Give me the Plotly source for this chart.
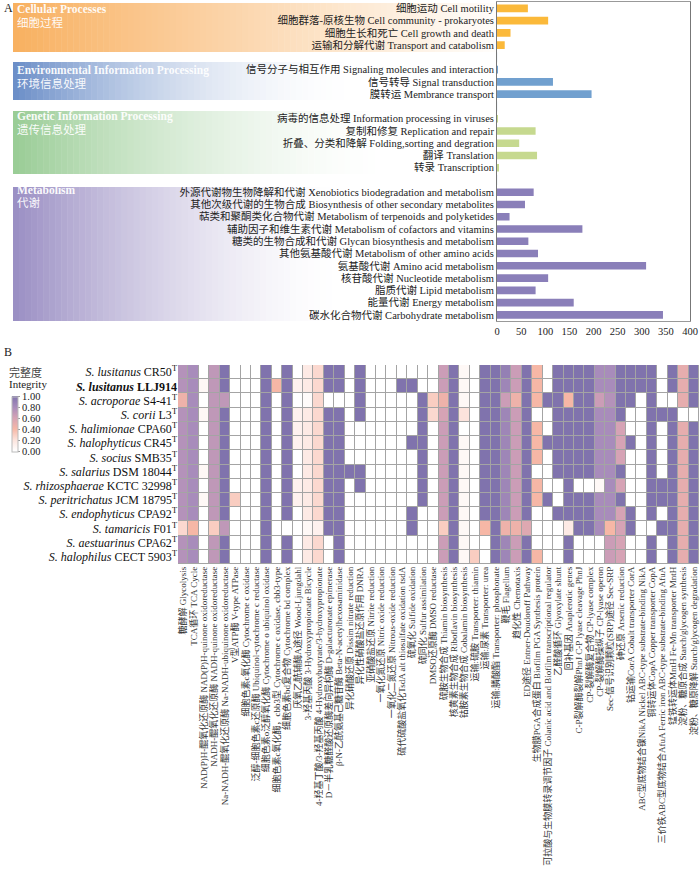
import plotly.graph_objects as go

# ---------------- Panel A data ----------------
cell_labels = ["细胞运动 Cell motility", "细胞群落-原核生物 Cell community - prokaryotes",
               "细胞生长和死亡 Cell growth and death", "运输和分解代谢 Transport and catabolism"]
cell_values = [64, 106, 28, 16]
env_labels = ["信号分子与相互作用 Signaling molecules and interaction", "信号转导 Signal transduction",
              "膜转运 Membrance transport"]
env_values = [1.5, 116, 196]
gen_labels = ["病毒的信息处理 Information processing in viruses", "复制和修复 Replication and repair",
              "折叠、分类和降解 Folding,sorting and degration", "翻译 Translation", "转录 Transcription"]
gen_values = [1, 80, 46, 83, 3]
met_labels = ["外源代谢物生物降解和代谢 Xenobiotics biodegradation and metabolism",
              "其他次级代谢的生物合成 Biosynthesis of other secondary metabolites",
              "萜类和聚酮类化合物代谢 Metabolism of terpenoids and polyketides",
              "辅助因子和维生素代谢 Metabolism of cofactors and vitamins",
              "糖类的生物合成和代谢 Glycan biosynthesis and metabolism",
              "其他氨基酸代谢 Metabolism of other amino acids", "氨基酸代谢 Amino acid metabolism",
              "核苷酸代谢 Nucleotide metabolism", "脂质代谢 Lipid metabolism", "能量代谢 Energy metabolism",
              "碳水化合物代谢 Carbohydrate metabolism"]
met_values = [76, 58, 26, 177, 65, 85, 309, 106, 80, 159, 344]
gap_labels = [" ", "  ", "   "]
a_ticks = [0, 50, 100, 150, 200, 250, 300, 350, 400]

group_titles = ["Cellular Processes", "Environmental Information Processing",
                "Genetic Information Processing", "Metabolism"]
group_titles_cn = ["细胞过程", "环境信息处理", "遗传信息处理", "代谢"]

# ---------------- Panel B data ----------------
species = ["<i>S. lusitanus</i> CR50<sup>T</sup>", "<b><i>S. lusitanus</i> LLJ914</b>",
           "<i>S. acroporae</i> S4-41<sup>T</sup>", "<i>S. corii</i> L3<sup>T</sup>",
           "<i>S. halimionae</i> CPA60<sup>T</sup>", "<i>S. halophyticus</i> CR45<sup>T</sup>",
           "<i>S. socius</i> SMB35<sup>T</sup>", "<i>S. salarius</i> DSM 18044<sup>T</sup>",
           "<i>S. rhizosphaerae</i> KCTC 32998<sup>T</sup>", "<i>S. peritrichatus</i> JCM 18795<sup>T</sup>",
           "<i>S. endophyticus</i> CPA92<sup>T</sup>", "<i>S. tamaricis</i> F01<sup>T</sup>",
           "<i>S. aestuarinus</i> CPA62<sup>T</sup>", "<i>S. halophilus</i> CECT 5903<sup>T</sup>"]

functions = [
    "糖酵解 Glycolysis", "TCA循环 TCA Cycle",
    "NAD(P)H-醌氧化还原酶 NAD(P)H-quinone oxidoreductase",
    "NADH-醌氧化还原酶 NADH-quinone oxidoreductase",
    "Na-NADH-醌氧化还原酶 Na-NADH-ubiquinone oxidoreductase",
    "V型ATP酶 V-type ATPase", "细胞色素c氧化酶 Cytochrome c oxidase",
    "泛醇-细胞色素c还原酶 Ubiquinol-cytochrome c reductase",
    "细胞色素o泛醇氧化酶 Cytochrome o ubiquinol oxidase",
    "细胞色素c氧化酶，cbb3型 Cytochrome c oxidase, cbb3-type",
    "细胞色素bd复合物 Cytochrome bd complex", "厌氧乙酰辅酶A途径 Wood-Ljungdahl",
    "3-羟基丙酸 3-Hydroxypropionate Bicycle",
    "4-羟基丁酸/3-羟基丙酸 4-Hydroxybutyrate/3-hydroxypropionate",
    "D－半乳糖醛酸还原酶差向异构酶 D-galacturonate epimerase",
    "β-N-乙酰氨基己糖苷酶 Beta-N-acetylhexosaminidase",
    "异化硝酸还原 Dissim nitrate reduction", "异化性硝酸盐还原作用 DNRA",
    "亚硝酸盐还原 Nitrite reduction", "一氧化氮还原 Nitric oxide reduction",
    "一氧化二氮还原 Nitrous-oxide reduction",
    "硫代硫酸盐氧化TsdA alt thiosulfate oxidation tsdA",
    "硫氧化 Sulfide oxidation", "硫同化 Sulfur assimilation", "DMSO还原酶 DMSO reductase",
    "硫胺生物合成 Thiamin biosynthesis", "核黄素生物合成 Riboflavin biosynthesis",
    "钴胺素生物合成 Cobalamin biosynthesis", "运输:硫胺 Transporter: thiamin",
    "运输:尿素 Transporter: urea", "运输:膦酸酯 Transporter: phosphonate",
    "鞭毛 Flagellum", "趋化性 Chemotaxis", "ED途径 Entner-Doudoroff Pathway",
    "生物膜PGA合成蛋白 Biofilm PGA Synthesis protein",
    "可拉酸与生物膜转录调节因子 Colanic acid and Biofilm transcriptional regulator",
    "乙醛酸循环 Glyoxylate shunt", "回补基因 Anaplerotic genes",
    "C-P裂解酶裂解PhnJ C-P lyase cleavage PhnJ", "CP-裂解酶复合物 CP-lyase complex",
    "CP-裂解酶操纵子 CP-lyase operon", "Sec-信号识别颗粒(SRP)途径 Sec-SRP",
    "砷还原 Arsenic reduction", "钴运输CorA Cobalt transporter CorA",
    "ABC型底物结合镍NikA Nickel ABC-type substrate-binding NikA",
    "铜转运体CopA Copper transporter CopA",
    "三价铁ABC型底物结合AfuA Ferric iron ABC-type substrate-binding AfuA",
    "锰铁转运体MntH Fe-Mn transporter MntH",
    "淀粉、糖原合成 Starch/glycogen synthesis", "淀粉、糖原降解 Starch/glycogen degradation",
]

integrity = [
    [.75,.8,0,.7,1,0,0,0,1,0,1,0,.15,.25,1,1,
     0,1,0,0,0,0,0,0,0,.65,1,.05,0,1,1,.9,.65,
     1,.4,0,1,1,1,1,.8,.8,1,1,1,1,0,1,.5,1],
    [.75,.8,.05,.7,1,0,0,0,1,.4,1,.1,.15,.25,1,1,
     0,1,0,0,0,1,1,0,0,.65,1,.05,0,1,1,.85,.65,
     1,.4,0,1,1,1,1,.8,.8,1,1,1,1,0,1,.5,1],
    [.45,.8,0,.7,.7,0,0,0,1,0,1,0,.03,.25,0,0,
     0,1,0,0,0,0,0,1,.3,.45,1,.05,0,1,1,.65,.45,
     1,.4,1,1,.4,1,1,.65,.75,1,1,0,1,0,0,.5,1],
    [.75,.8,.05,.7,1,0,0,0,1,0,1,.1,.15,.25,1,1,
     0,1,0,0,0,0,0,1,.25,.6,1,.2,0,1,1,.85,.65,
     1,0,0,1,1,1,1,.8,.8,1,0,0,1,1,1,0,0],
    [.75,.8,0,.7,1,0,0,0,1,0,1,.1,.15,.25,1,1,
     0,0,0,0,0,0,0,1,0,.65,1,0,0,1,1,.85,.65,
     1,.4,0,1,1,1,1,.8,.8,.6,0,0,1,0,1,.5,1],
    [.75,.8,0,.7,1,0,0,0,1,0,1,.1,.15,.25,1,1,
     0,0,0,0,0,0,1,1,0,.65,1,.05,0,1,1,.85,.65,
     1,.4,1,1,1,1,1,.8,.8,.6,1,0,1,0,1,.5,1],
    [.75,.8,0,.7,1,0,0,0,1,0,1,0,.15,.25,1,1,
     0,0,0,0,0,0,0,1,0,.65,1,.05,0,1,1,.85,.65,
     1,.4,0,1,1,1,1,.8,.8,.6,0,0,1,0,1,.5,1],
    [.75,.8,.05,.7,1,0,0,0,1,0,1,0,.15,.25,1,1,
     1,1,0,0,0,0,0,1,0,.65,1,.05,0,1,1,.85,.65,
     1,0,0,1,1,1,1,.8,.8,1,0,0,1,0,1,.5,1],
    [.75,.8,0,.7,1,0,0,0,1,0,1,.1,.15,.25,1,1,
     0,1,0,0,0,0,0,1,0,.65,1,.05,0,1,1,.85,.65,
     1,.4,0,0,1,0,0,.05,.8,.6,0,0,1,1,1,.5,1],
    [.75,.8,.05,.7,1,.3,0,0,1,0,1,.1,.15,.25,1,1,
     0,0,0,0,0,0,0,1,0,.65,1,.05,0,1,1,.85,.65,
     1,.4,1,0,1,1,1,.8,.8,1,0,0,1,1,1,.5,1],
    [.75,.8,0,.7,1,0,0,0,1,0,1,0,.15,.25,1,1,
     0,0,0,0,0,0,1,0,0,.65,1,.05,0,1,1,.85,.65,
     1,0,0,1,1,1,1,.8,.8,.6,1,0,1,0,1,.5,1],
    [.25,.4,0,.3,.7,0,0,0,1,0,0,0,.05,.1,1,1,
     0,0,0,0,0,0,1,0,0,.3,1,.05,0,.4,1,.45,.45,
     .55,0,0,0,.15,1,1,.8,.4,.6,1,0,0,1,1,.5,1],
    [.75,.8,0,.7,1,0,0,0,1,0,1,0,.15,.25,0,1,
     0,0,0,0,0,0,0,0,0,.65,1,.05,0,0,1,.85,.65,
     1,0,0,0,1,0,0,0,.65,.6,0,0,1,0,1,.5,1],
    [.75,.8,0,.7,1,0,0,0,1,0,1,0,.15,.25,0,1,
     0,0,0,0,0,0,0,0,0,.65,1,.05,.3,0,1,.85,.65,
     1,.4,0,0,1,0,0,0,.65,.6,0,0,1,0,1,.5,1],
]
cbar_ticks = [0, 0.2, 0.4, 0.6, 0.8, 1.0]

# ---------------- layout helpers ----------------
W, H = 700, 872
SERIF = "Liberation Serif, Noto Sans CJK SC, serif"

def px(x):
    return x / W

def py(y):
    return 1 - y / H

fig = go.Figure()

category_order = (cell_labels + [gap_labels[0]] + env_labels + [gap_labels[1]]
                  + gen_labels + [gap_labels[2]] + met_labels)

bar_colors = ["#fbb93a", "#71a0cf", "#c6d98f", "#8a7fb9"]
for labels, values, col in zip([cell_labels, env_labels, gen_labels, met_labels],
                               [cell_values, env_values, gen_values, met_values], bar_colors):
    fig.add_trace(go.Bar(x=values, y=labels, orientation="h", marker=dict(color=col, line=dict(width=0)),
                         width=0.62, xaxis="x", yaxis="y", showlegend=False, hoverinfo="x+y"))
fig.add_trace(go.Bar(x=[0, 0, 0], y=gap_labels, orientation="h", xaxis="x", yaxis="y",
                     showlegend=False, hoverinfo="skip"))

# heatmap
colorscale = [[0.0, "#ffffff"], [0.2, "#fce3dc"], [0.4, "#f6b7a6"], [0.6, "#d6a3b5"],
              [0.8, "#a88cbb"], [1.0, "#8073ad"]]
fig.add_trace(go.Heatmap(
    z=integrity, x=functions, y=species, colorscale=colorscale, zmin=0, zmax=1,
    xgap=1, ygap=1, xaxis="x2", yaxis="y2",
    colorbar=dict(x=px(12), xanchor="left", y=py(424), yanchor="middle",
                  len=55, lenmode="pixels", thickness=6, thicknessmode="pixels",
                  xpad=0, ypad=0, tickvals=cbar_ticks,
                  ticktext=["%.2f" % t for t in cbar_ticks],
                  tickfont=dict(size=10.5, family=SERIF, color="#222"),
                  ticks="outside", ticklen=2, tickcolor="#999",
                  outlinewidth=1, outlinecolor="#bbbbbb"),
))

# gradient group backgrounds (strips)
shapes = []
groups_geo = [  # y0, y1, start rgb, fade length, power
    (3, 52, (248, 176, 96), 500, 1.1),
    (62, 100, (106, 141, 199), 350, 1.9),
    (111, 174, (153, 204, 149), 380, 1.7),
    (187, 321, (154, 142, 195), 330, 1.6),
]
x_start, x_end, nstrip = 13, 495, 80
sw = (x_end - x_start) / nstrip
for y0, y1, rgb, L, p in groups_geo:
    for i in range(nstrip):
        xa = x_start + i * sw
        xc = xa + sw / 2 - x_start
        f = max(0.0, 1 - xc / L) ** p
        c = tuple(int(round(255 - (255 - ch) * f)) for ch in rgb)
        shapes.append(dict(type="rect", xref="paper", yref="paper",
                           x0=px(xa), x1=px(xa + sw + 0.5), y0=py(y1), y1=py(y0),
                           fillcolor="rgb(%d,%d,%d)" % c, line=dict(width=0), layer="below"))
# grey grid behind heatmap
shapes.append(dict(type="rect", xref="x2 domain", yref="y2 domain", x0=0, x1=1, y0=0, y1=1,
                   fillcolor="#a4a4a4", line=dict(width=0), layer="below"))

annotations = []
title_pos = [(9, 23), (70, 83), (117, 130), (190, 203)]
for (ty, cy), t, tc in zip(title_pos, group_titles, group_titles_cn):
    annotations.append(dict(x=px(15), y=py(ty), xref="paper", yref="paper", text="<b>%s</b>" % t,
                            showarrow=False, xanchor="left", yanchor="middle",
                            font=dict(size=11.5, family=SERIF, color="rgba(255,255,255,0.95)")))
    annotations.append(dict(x=px(15), y=py(cy), xref="paper", yref="paper", text=tc,
                            showarrow=False, xanchor="left", yanchor="middle",
                            font=dict(size=11.5, family=SERIF, color="rgba(255,255,255,0.95)")))
annotations += [
    dict(x=px(2), y=py(8), xref="paper", yref="paper", text="A", showarrow=False,
         xanchor="left", yanchor="middle", font=dict(size=12, family=SERIF, color="#222")),
    dict(x=px(2), y=py(352), xref="paper", yref="paper", text="B", showarrow=False,
         xanchor="left", yanchor="middle", font=dict(size=12, family=SERIF, color="#222")),
    dict(x=px(7), y=py(372), xref="paper", yref="paper", text="完整度", showarrow=False,
         xanchor="left", yanchor="middle", font=dict(size=11, family=SERIF, color="#444")),
    dict(x=px(7), y=py(384), xref="paper", yref="paper", text="Integrity", showarrow=False,
         xanchor="left", yanchor="middle", font=dict(size=11, family=SERIF, color="#222")),
]

fig.update_layout(
    width=W, height=H, margin=dict(l=0, r=0, t=0, b=0),
    paper_bgcolor="white", plot_bgcolor="white", barmode="overlay",
    font=dict(family=SERIF, color="#222"),
    shapes=shapes, annotations=annotations,
    xaxis=dict(domain=[px(497), px(690)], range=[0, 400], tickvals=a_ticks, anchor="y",
               showgrid=False, zeroline=False, showline=True, mirror=True, linecolor="#999",
               ticks="", tickfont=dict(size=10.5, family=SERIF, color="#222"), automargin=False),
    yaxis=dict(domain=[py(321), py(2.2)], categoryorder="array", categoryarray=category_order,
               range=[len(category_order) - 0.5, -0.5], anchor="x", showgrid=False,
               tickmode="linear", tick0=0, dtick=1,
               showline=True, mirror=True, linecolor="#777", ticks="",
               tickfont=dict(size=10.5, family=SERIF, color="#222"), automargin=False),
    xaxis2=dict(domain=[px(178), px(699)], anchor="y2", tickangle=-90, showgrid=False,
                tickmode="linear", tick0=0, dtick=1,
                zeroline=False, ticks="", showline=False,
                tickfont=dict(size=9, family=SERIF, color="#333"), automargin=False),
    yaxis2=dict(domain=[py(564), py(365)], anchor="x2", autorange="reversed", showgrid=False,
                tickmode="linear", tick0=0, dtick=1,
                zeroline=False, ticks="", showline=False,
                tickfont=dict(size=12, family=SERIF, color="#111"), automargin=False),
)

fig.write_html("out.html", config={"displayModeBar": False},
               post_script="document.body.style.margin='0';document.body.style.padding='0';")
